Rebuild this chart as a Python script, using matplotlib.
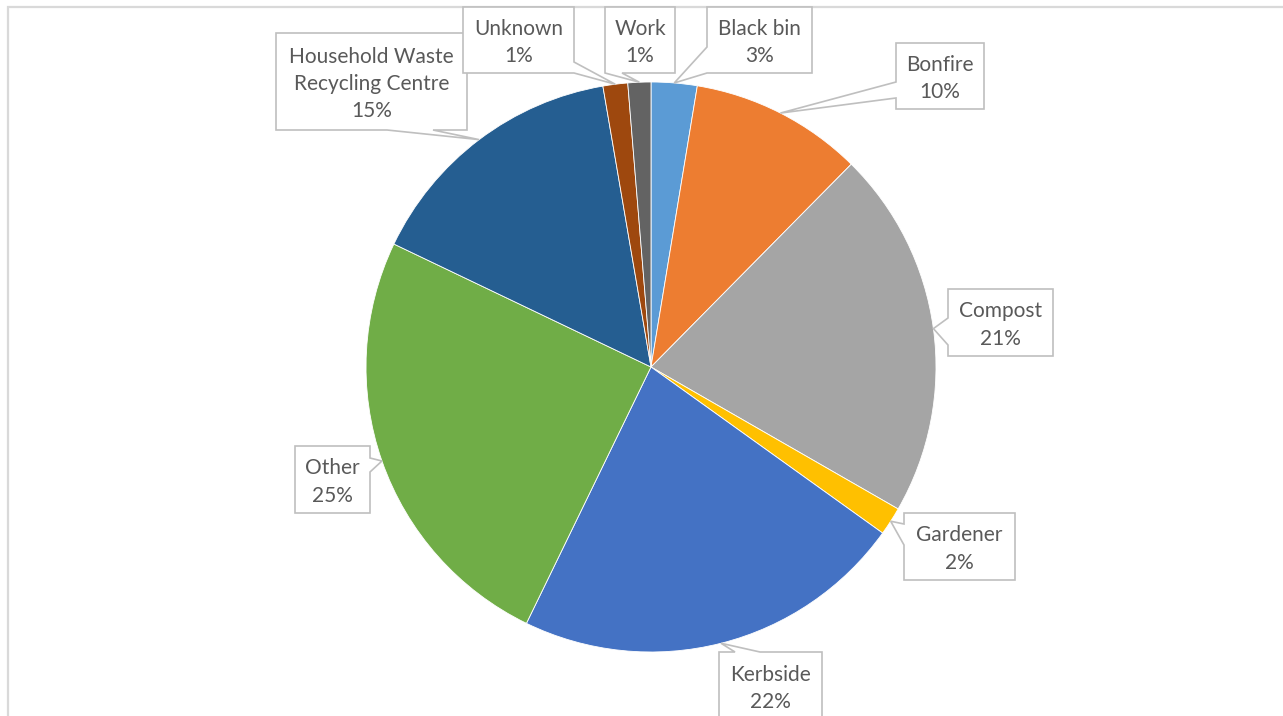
import matplotlib.pyplot as plt
import numpy as np
from matplotlib.patches import Polygon

W, H = 1283, 716

categories = ["Black bin", "Bonfire", "Compost", "Gardener", "Kerbside",
              "Other", "Household Waste\nRecycling Centre", "Unknown", "Work"]
shares = [2.6, 9.8, 20.9, 1.6, 22.3, 24.9, 15.2, 1.4, 1.3]
colors = ["#5B9BD5", "#ED7D31", "#A5A5A5", "#FFC000", "#4472C4",
          "#70AD47", "#255E91", "#9E480E", "#636363"]

# callout boxes in pixels from top-left: (x0, y0, x1, y1), side the pointer
# leaves from, and the span on that side where it starts and ends
callouts = [
    ((707, 7, 812, 73), "left", (47, 73)),
    ((896, 43, 984, 109), "left", (82, 98)),
    ((948, 289, 1053, 356), "left", (318, 345)),
    ((904, 513, 1015, 580), "left", (524, 545)),
    ((719, 652, 822, 740), "top", (735, 760)),
    ((295, 446, 370, 513), "right", (458, 472)),
    ((276, 33, 467, 130), "bottom", (387, 433)),
    ((463, 7, 574, 73), "right", (62, 73)),
    ((605, 7, 675, 73), "bottom", (605, 622)),
]

cx, cy, r = 651, 367, 285
plt.rcParams['font.family'] = ['Lato', 'DejaVu Sans']

fig = plt.figure(figsize=(W / 100, H / 100), dpi=100)
ax = fig.add_axes([0, 0, 1, 1])

ax.pie(shares, colors=colors, startangle=90, counterclock=False,
       center=(cx, H - cy), radius=r,
       wedgeprops=dict(edgecolor='white', linewidth=0.6))
ax.set_xlim(0, W)
ax.set_ylim(0, H)
ax.set_aspect('equal')
ax.axis('off')

# chart area border (only left and top edges are inside the image)
ax.plot([8, 8, W], [0, H - 7, H - 7], color='#D9D9D9', lw=1.6,
        solid_joinstyle='miter')

total = sum(shares)
frac = np.array(shares) / total
mids = (np.cumsum(frac) - frac / 2) * 2 * np.pi

for name, f, theta, (box, side, (a, b)) in zip(categories, frac, mids, callouts):
    tip = (cx + r * np.sin(theta), cy - r * np.cos(theta))
    x0, y0, x1, y1 = box
    if side == "right":
        pts = [(x0, y0), (x1, y0), (x1, a), tip, (x1, b), (x1, y1), (x0, y1)]
    elif side == "bottom":
        pts = [(x0, y0), (x1, y0), (x1, y1), (b, y1), tip, (a, y1), (x0, y1)]
    elif side == "left":
        pts = [(x0, y0), (x1, y0), (x1, y1), (x0, y1), (x0, b), tip, (x0, a)]
    else:
        pts = [(x0, y0), (a, y0), tip, (b, y0), (x1, y0), (x1, y1), (x0, y1)]
    pts = [(px, H - py) for px, py in pts]
    ax.add_patch(Polygon(pts, closed=True, facecolor='white',
                         edgecolor='#BFBFBF', lw=1.2, zorder=3))
    ty = (y0 + y1) / 2 if y1 <= H else y0 + 34
    ax.text((x0 + x1) / 2, H - ty - 2.5, f"{name}\n{f * 100:.0f}%",
            ha='center', va='center', fontsize=15, color='#595959',
            linespacing=1.45, zorder=4)

fig.savefig("out.png", dpi=100)
